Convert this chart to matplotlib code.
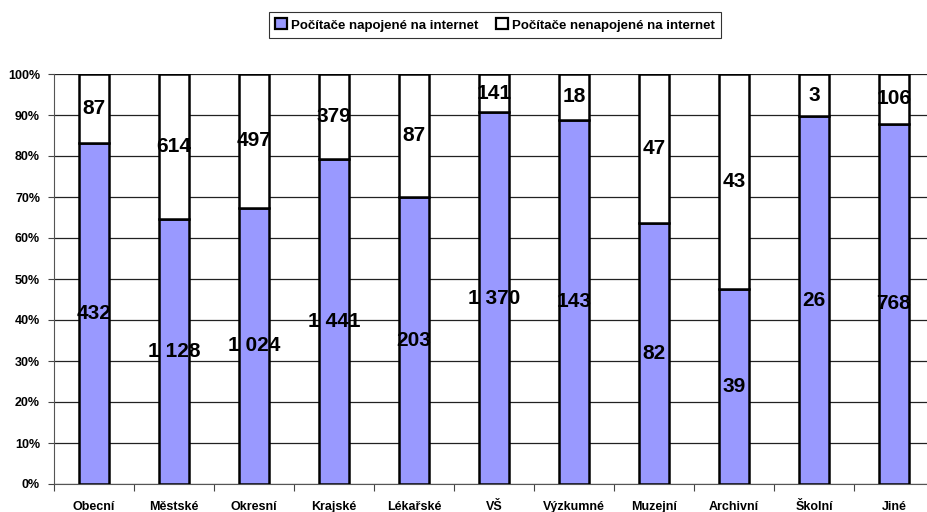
import numpy as np
import matplotlib.pyplot as plt
from matplotlib.patches import Patch

plt.rcParams['font.family'] = ['Liberation Sans', 'DejaVu Sans']

categories = ['Obecní', 'Městské', 'Okresní', 'Krajské', 'Lékařské', 'VŠ',
              'Výzkumné', 'Muzejní', 'Archivní', 'Školní', 'Jiné']
napojene = [432, 1128, 1024, 1441, 203, 1370, 143, 82, 39, 26, 768]
nenapojene = [87, 614, 497, 379, 87, 141, 18, 47, 43, 3, 106]
series_names = ['Počítače napojené na internet', 'Počítače nenapojené na internet']


def fmt(v):
    # thousands separated by a space, Czech style
    return f'{v:,}'.replace(',', ' ')


a = np.array(napojene, dtype=float)
b = np.array(nenapojene, dtype=float)
tot = a + b
pa = a / tot * 100
pb = b / tot * 100
x = np.arange(len(categories))

fig = plt.figure(figsize=(9.28, 5.12), dpi=100)
ax = fig.add_axes([54 / 928, 28 / 512, 880 / 928, 410 / 512])

w = 0.375
ax.bar(x, pa, width=w, color='#9999FF', edgecolor='black', linewidth=1.8, zorder=3)
ax.bar(x, pb, width=w, bottom=pa, color='white', edgecolor='black', linewidth=1.8, zorder=3)

for i in range(len(x)):
    ax.text(x[i], pa[i] / 2, fmt(napojene[i]), ha='center', va='center',
            fontsize=15, fontweight='bold', zorder=4)
    ax.text(x[i], pa[i] + pb[i] / 2, fmt(nenapojene[i]), ha='center', va='center',
            fontsize=15, fontweight='bold', zorder=4)

ax.set_xlim(-0.5, len(x) - 0.5)
ax.set_ylim(0, 100)
ax.set_yticks(np.arange(0, 101, 10))
ax.set_yticklabels([f'{v}%' for v in range(0, 101, 10)], fontsize=9, fontweight='bold')
ax.yaxis.grid(True, color='#222222', linewidth=0.9, zorder=0)
ax.set_axisbelow(True)

ax.set_xticks(np.arange(-0.5, len(x), 1))
ax.set_xticklabels([])
ax.set_xticks(x, minor=True)
ax.set_xticklabels(categories, minor=True, fontsize=9, fontweight='bold')
ax.tick_params(axis='x', which='minor', length=0, pad=12)
ax.tick_params(axis='x', which='major', length=5, color='#444444')
ax.tick_params(axis='y', length=4, color='#444444', pad=6)

for s in ['top', 'right']:
    ax.spines[s].set_visible(False)
ax.spines['left'].set_color('#555555')
ax.spines['bottom'].set_color('#555555')

handles = [Patch(facecolor='#9999FF', edgecolor='black', linewidth=1.6),
           Patch(facecolor='white', edgecolor='black', linewidth=1.6)]
leg = fig.legend(handles, series_names, loc='center', bbox_to_anchor=(495 / 928, 1 - 25 / 512),
                 ncol=2, frameon=True, fancybox=False, edgecolor='black',
                 prop={'size': 9.5, 'weight': 'bold'}, handlelength=0.9, handleheight=0.9,
                 handletextpad=0.3, columnspacing=1.3, borderpad=0.5)
leg.get_frame().set_linewidth(0.8)

fig.savefig('out.png', dpi=100)
